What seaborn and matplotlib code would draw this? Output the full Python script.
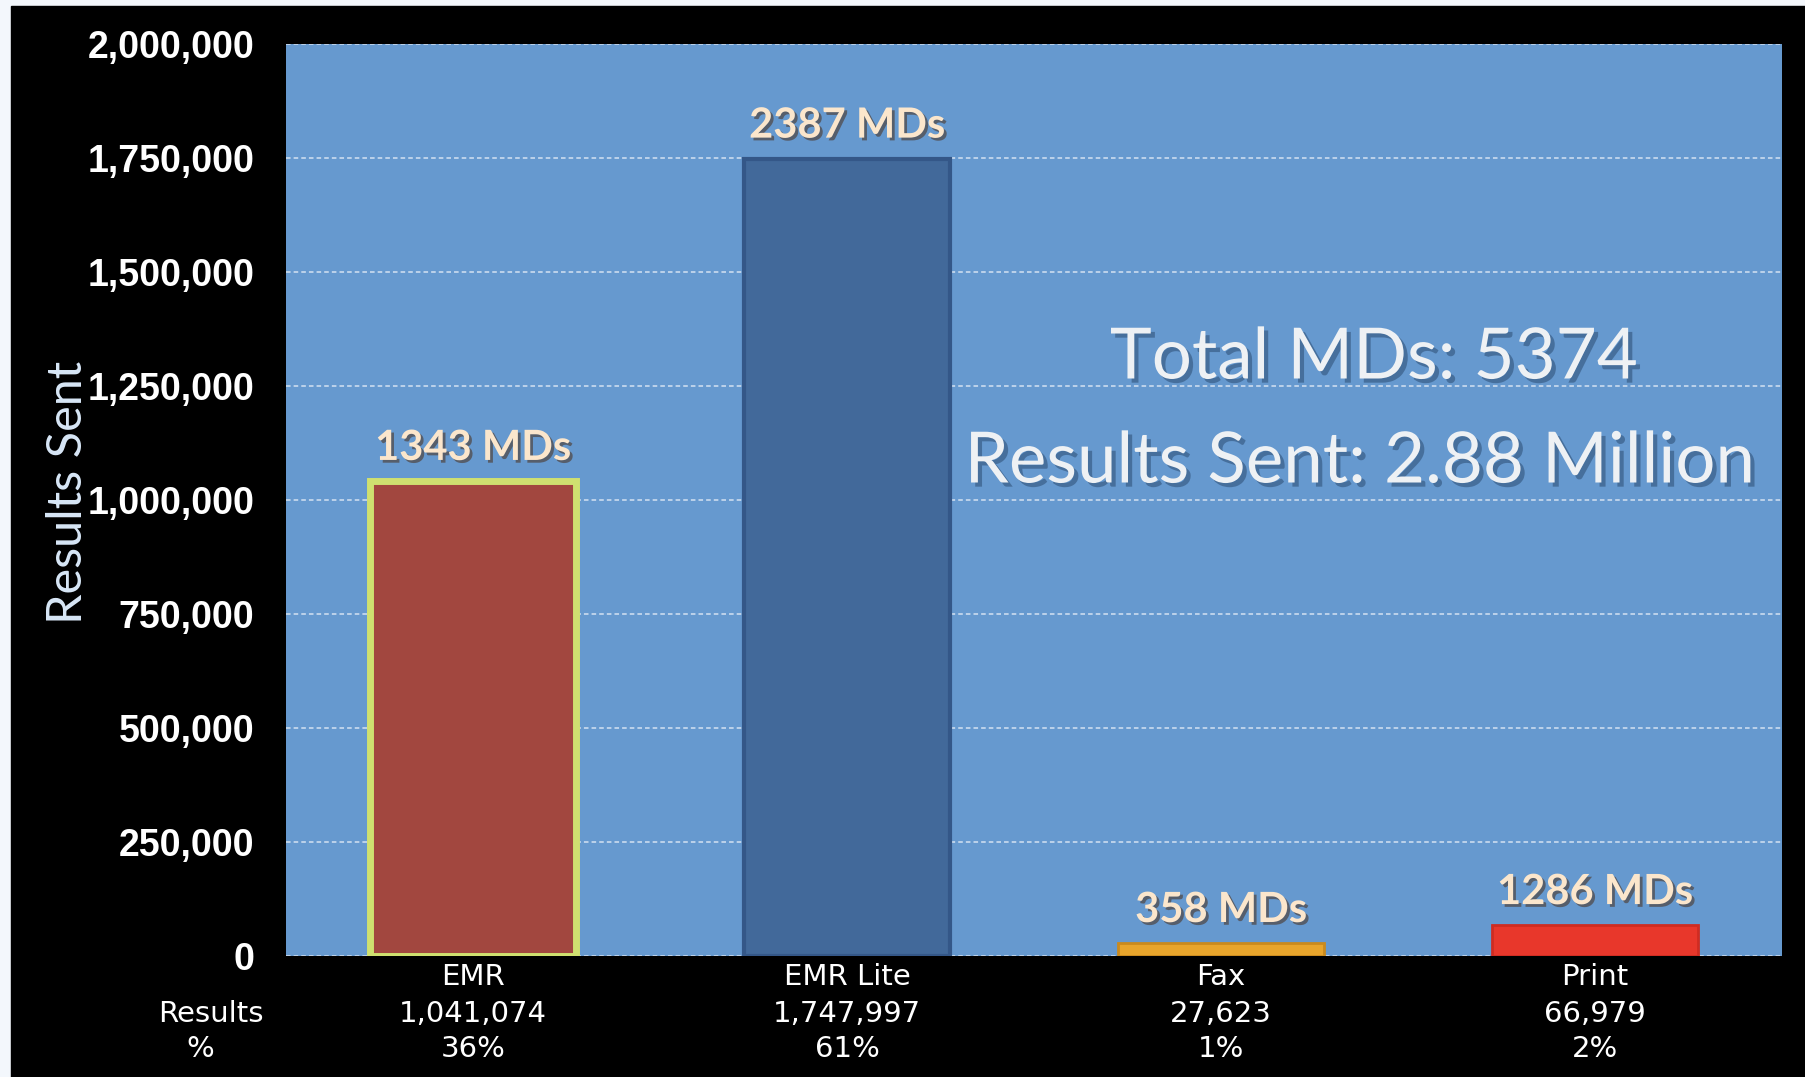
import matplotlib
matplotlib.use("Agg")
import pandas as pd
import seaborn as sns
from matplotlib import pyplot as plt
from matplotlib import patheffects as pe
from matplotlib.patches import Rectangle
from matplotlib.ticker import FuncFormatter

# values
categories = ["EMR", "EMR Lite", "Fax", "Print"]
results_sent = [1041074, 1747997, 27623, 66979]
results_text = ["1,041,074", "1,747,997", "27,623", "66,979"]
percent_text = ["36%", "61%", "1%", "2%"]
md_counts = [1343, 2387, 358, 1286]
total_mds = 5374
total_results = "2.88 Million"
y_ticks = [0, 250000, 500000, 750000, 1000000, 1250000, 1500000, 1750000, 2000000]

bar_colors = ["#a2473f", "#42699a", "#e8a52c", "#e8372b"]
edge_colors = ["#cfe070", "#345788", "#c98a1e", "#cf2c22"]
edge_widths = [5, 3, 2, 2]

sns.set_style("dark")
plt.rcParams["font.family"] = ["Liberation Sans", "DejaVu Sans"]

df = pd.DataFrame({"category": categories, "results": results_sent})

fig = plt.figure(figsize=(18.06, 10.77), dpi=100)
fig.patch.set_facecolor("#f3f7fc")
fig.patches.append(Rectangle((11 / 1806, 0), 1, 1 - 6 / 1077,
                             transform=fig.transFigure, color="black", zorder=-10))

ax = fig.add_axes([0.1584, 0.1124, 0.8283, 0.8467])
ax.set_facecolor("#6699cf")
ax.set_axisbelow(True)

sns.barplot(data=df, x="category", y="results", hue="category",
            palette=bar_colors, saturation=1, width=0.55, legend=False, ax=ax)

for patch, ec, lw in zip(ax.patches, edge_colors, edge_widths):
    patch.set_edgecolor(ec)
    patch.set_linewidth(lw)

ax.set_ylim(0, 2000000)
ax.set_xlim(-0.5, 3.5)
ax.set_yticks(y_ticks)
ax.yaxis.set_major_formatter(FuncFormatter(lambda v, p: "{:,}".format(int(v))))
ax.yaxis.grid(True, color="#d4e2f2", linestyle=(0, (3, 2)), linewidth=1.1)
ax.xaxis.grid(False)
for s in ax.spines.values():
    s.set_visible(False)

ax.tick_params(axis="y", colors="white", labelsize=27, length=0, pad=23)
for lab in ax.get_yticklabels():
    lab.set_fontweight("bold")
ax.tick_params(axis="x", length=0, pad=0)
ax.set_xticklabels([])
ax.set_xlabel("")

ax.set_ylabel("Results Sent", color="#d8e7f7", fontsize=35, family=["Lato", "DejaVu Sans"])
ax.yaxis.set_label_coords(-0.131, 0.508)

# bar annotations
shadow = [pe.SimplePatchShadow(offset=(2, -2), shadow_rgbFace="#4a2e1a", alpha=0.55), pe.Normal()]
for i, (v, n) in enumerate(zip(results_sent, md_counts)):
    ax.annotate("{} MDs".format(n), (i, v), xytext=(0, 24), textcoords="offset points",
                ha="center", va="center", fontsize=30, fontweight="bold",
                color="#fbe6cc", family=["Lato", "DejaVu Sans"], path_effects=shadow)

# table under the bars
trans = ax.get_xaxis_transform()
tfont = dict(color="white", fontsize=21, family=["DejaVu Sans"], ha="center", va="center")
for i, c in enumerate(categories):
    ax.text(i, -0.023, c, transform=trans, **tfont)
    ax.text(i, -0.0636, results_text[i], transform=trans, **tfont)
    ax.text(i, -0.102, percent_text[i], transform=trans, **tfont)
ax.text(211 / 1806, 1 - 1014 / 1077, "Results", transform=fig.transFigure, **tfont)
ax.text(200 / 1806, 1 - 1049 / 1077, "%", transform=fig.transFigure, **tfont)

# summary text
big_shadow = [pe.SimplePatchShadow(offset=(3, -3), shadow_rgbFace="#28466a", alpha=0.5), pe.Normal()]
ax.text(1374 / 1806, 1 - 358 / 1077, "Total MDs: {}".format(total_mds), transform=fig.transFigure,
        ha="center", va="center", fontsize=51, color="#eef1f4",
        family=["Lato", "DejaVu Sans"], path_effects=big_shadow)
ax.text(1360 / 1806, 1 - 462 / 1077, "Results Sent: {}".format(total_results), transform=fig.transFigure,
        ha="center", va="center", fontsize=51, color="#eef1f4",
        family=["Lato", "DejaVu Sans"], path_effects=big_shadow)

fig.savefig("out.png", dpi=100, facecolor=fig.get_facecolor())
